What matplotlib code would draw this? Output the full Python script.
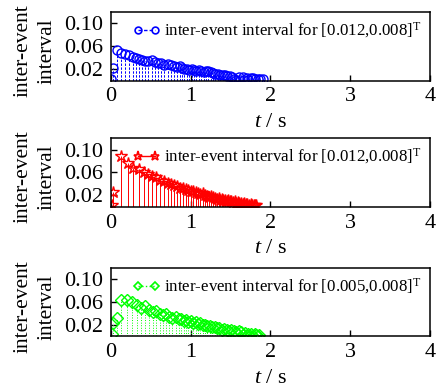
"""Stem plots of inter-event intervals for three trigger parameter sets."""
import matplotlib
matplotlib.use("Agg")
import matplotlib.pyplot as plt  # noqa: E402
from matplotlib.lines import Line2D  # noqa: E402

plt.rcParams["font.family"] = ["Liberation Serif", "DejaVu Serif"]
plt.rcParams["mathtext.fontset"] = "custom"
plt.rcParams["mathtext.rm"] = "Liberation Serif"
plt.rcParams["mathtext.it"] = "Liberation Serif:italic"

# event times (s) and inter-event intervals
t_blue = [0.00, 0.03, 0.075, 0.13, 0.18, 0.22, 0.27, 0.31, 0.35, 0.39, 0.43,
          0.47, 0.51, 0.55, 0.59, 0.63, 0.67, 0.71, 0.75, 0.79, 0.83, 0.86,
          0.89, 0.92, 0.95, 0.98, 1.01, 1.04, 1.07, 1.10, 1.13, 1.16, 1.19,
          1.22, 1.25, 1.28, 1.31, 1.34, 1.37, 1.40, 1.43, 1.46, 1.49, 1.52,
          1.54, 1.57, 1.60, 1.62, 1.65, 1.67, 1.70, 1.72, 1.75, 1.78, 1.81,
          1.84, 1.87, 1.90]
v_blue = [0.003, 0.022, 0.053, 0.048, 0.046, 0.044, 0.042, 0.040, 0.038,
          0.036, 0.035, 0.034, 0.036, 0.032, 0.031, 0.030, 0.028, 0.029,
          0.027, 0.026, 0.024, 0.025, 0.022, 0.021, 0.020, 0.019, 0.020,
          0.018, 0.017, 0.018, 0.016, 0.015, 0.016, 0.017, 0.015, 0.013,
          0.012, 0.011, 0.010, 0.010, 0.009, 0.008, 0.008, 0.007, 0.002,
          0.001, 0.007, 0.001, 0.006, 0.001, 0.005, 0.001, 0.004, 0.004,
          0.003, 0.003, 0.002, 0.002]

t_red = [0.015, 0.025, 0.12, 0.21, 0.28, 0.35, 0.41, 0.47, 0.52, 0.57, 0.62,
         0.67, 0.71, 0.75, 0.79, 0.83, 0.87, 0.90, 0.94, 0.97, 1.00, 1.03,
         1.06, 1.09, 1.12, 1.15, 1.18, 1.20, 1.23, 1.25, 1.28, 1.30, 1.33,
         1.35, 1.37, 1.39, 1.41, 1.43, 1.45, 1.47, 1.49, 1.51, 1.53, 1.55,
         1.57, 1.59, 1.61, 1.63, 1.65, 1.67, 1.69, 1.71, 1.73, 1.75, 1.77,
         1.79, 1.81, 1.82]
v_red = [0.003, 0.025, 0.089, 0.076, 0.068, 0.065, 0.060, 0.057, 0.053,
         0.051, 0.047, 0.044, 0.042, 0.040, 0.037, 0.036, 0.033, 0.032,
         0.030, 0.029, 0.027, 0.028, 0.025, 0.024, 0.022, 0.023, 0.020,
         0.019, 0.017, 0.018, 0.016, 0.015, 0.014, 0.015, 0.012, 0.013,
         0.011, 0.012, 0.010, 0.011, 0.009, 0.010, 0.008, 0.009, 0.007,
         0.008, 0.006, 0.007, 0.005, 0.006, 0.004, 0.005, 0.003, 0.004,
         0.003, 0.002, 0.003, 0.002]

t_green = [0.015, 0.025, 0.075, 0.13, 0.20, 0.26, 0.32, 0.38, 0.43, 0.48,
           0.53, 0.57, 0.61, 0.65, 0.69, 0.73, 0.77, 0.81, 0.85, 0.88, 0.91,
           0.94, 0.97, 1.00, 1.03, 1.06, 1.09, 1.12, 1.15, 1.18, 1.21, 1.24,
           1.27, 1.30, 1.33, 1.36, 1.39, 1.42, 1.45, 1.48, 1.51, 1.54, 1.57,
           1.60, 1.63, 1.66, 1.68, 1.70, 1.72, 1.74, 1.76, 1.78, 1.80, 1.82,
           1.84, 1.86]
v_green = [0.004, 0.024, 0.032, 0.064, 0.064, 0.060, 0.055, 0.050, 0.053,
           0.046, 0.043, 0.045, 0.040, 0.037, 0.039, 0.035, 0.033, 0.034,
           0.030, 0.031, 0.028, 0.029, 0.026, 0.027, 0.024, 0.025, 0.022,
           0.023, 0.020, 0.021, 0.018, 0.019, 0.016, 0.017, 0.014, 0.015,
           0.012, 0.013, 0.011, 0.010, 0.011, 0.009, 0.008, 0.009, 0.007,
           0.002, 0.006, 0.001, 0.005, 0.001, 0.004, 0.001, 0.004, 0.003,
           0.001, 0.003]

labels = ["inter-event interval for [0.012,0.008]$^\\mathrm{T}$",
          "inter-event interval for [0.012,0.008]$^\\mathrm{T}$",
          "inter-event interval for [0.005,0.008]$^\\mathrm{T}$"]

series = [
    (t_blue, v_blue, (0, 0, 1), (0, (2.5, 1.5)), "o", 6.5),
    (t_red, v_red, (1, 0, 0), "-", "*", 9.0),
    (t_green, v_green, (0, 1, 0), ":", "D", 6.0),
]

fig = plt.figure(figsize=(4.36, 3.89), dpi=100)
tops = [0.969, 0.645, 0.311]
h = 0.176

for (t, v, col, ls, mk, ms), lab, top in zip(series, labels, tops):
    ax = fig.add_axes([0.2546, top - h, 0.7316, h])
    ml, sl, bl = ax.stem(t, v, basefmt=" ")
    sl.set_color(col)
    sl.set_linestyle(ls)
    sl.set_linewidth(0.7)
    ml.set_marker(mk)
    ml.set_markersize(ms)
    ml.set_markerfacecolor("none")
    ml.set_markeredgecolor(col)
    ml.set_markeredgewidth(1.0)
    ml.set_linestyle("none")

    handle = Line2D([0, 1], [0, 0], color=col, ls=ls, lw=1.0, marker=mk,
                    ms=ms * 0.75, mfc="none", mec=col, mew=1.2,
                    markevery=[1])
    ax.legend([handle], [lab], loc="upper right", frameon=False,
              fontsize=12.2, numpoints=2, handlelength=1.6,
              handletextpad=0.25, borderaxespad=0.1)

    ax.set_xlim(0, 4)
    ax.set_ylim(0, 0.12)
    ax.set_xticks([0, 1, 2, 3, 4])
    ax.set_yticks([0.02, 0.06, 0.10])
    ax.set_yticklabels(["0.02", "0.06", "0.10"])
    ax.tick_params(direction="in", labelsize=16, length=4, width=1.0)
    ax.tick_params(axis="x", pad=5)
    ax.tick_params(axis="y", pad=6)
    for sp in ax.spines.values():
        sp.set_linewidth(1.1)
    ax.set_xlabel("$t$ / s", fontsize=16, labelpad=5)
    ax.set_ylabel("inter-event\ninterval", fontsize=15.5, linespacing=1.35)
    ax.yaxis.set_label_coords(-0.17, 0.43)

fig.savefig("out.png", dpi=100)
